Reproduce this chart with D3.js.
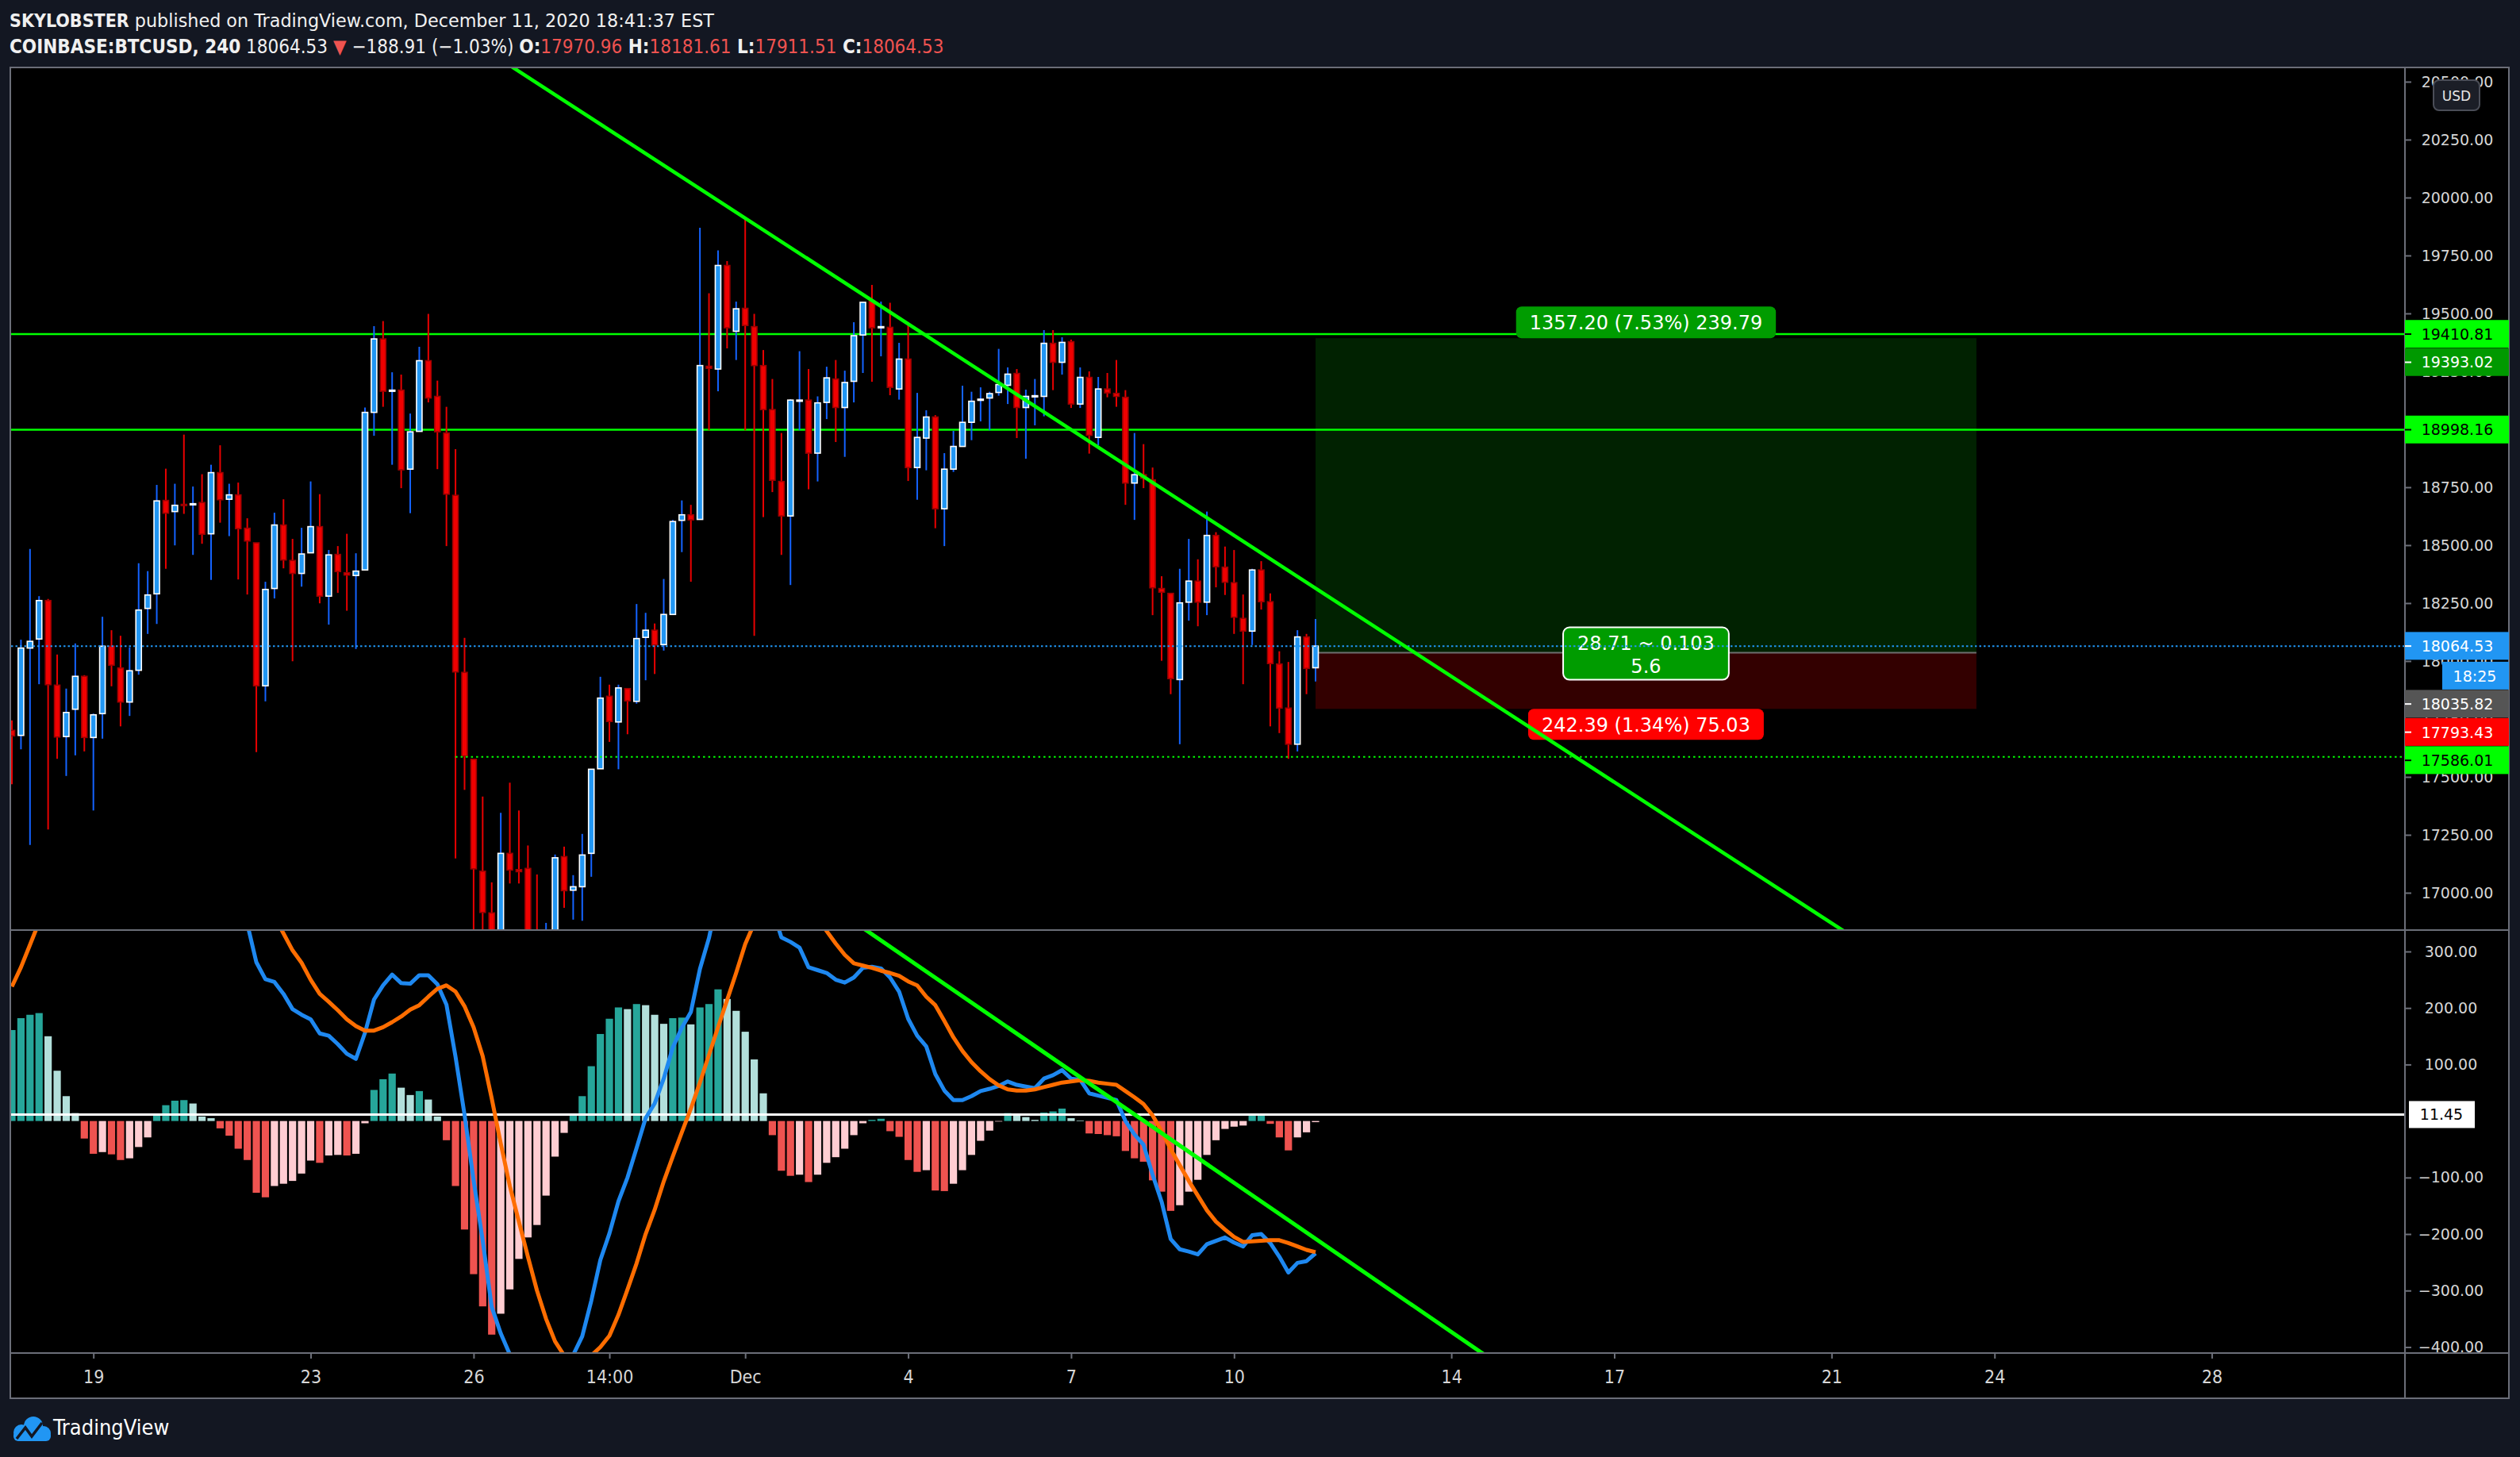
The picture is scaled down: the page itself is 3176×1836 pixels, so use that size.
<!DOCTYPE html>
<html>
<head>
<meta charset="utf-8">
<title>COINBASE:BTCUSD, 240</title>
<script src="https://cdn.jsdelivr.net/npm/d3@7"></script>
<style>
    html, body { margin: 0; padding: 0; background: #131722; }
    svg { display: block; }
</style>
</head>
<body>
<svg id="chart" width="3176" height="1836"></svg>
<script>
'use strict';

// 4h candles, first bar on the chart
const firstBar = '2020-11-17 14:00';

const opens = [17701,17679,18056,18095,18261,17896,17674,17792,17934,17670,
    17773,18064,17970,17823,17960,18227,18290,18693,18645,18676,
    18676,18684,18549,18813,18698,18717,18573,18510,17893,18313,
    18587,18434,18378,18467,18580,18280,18460,18381,18369,18393,
    19073,19390,19164,19169,18828,18991,19296,19142,18984,18715,
    17951,17576,17093,16913,16600,17170,17100,17105,16750,16600,
    16800,17156,17011,17026,17170,17535,17848,17737,17881,17826,
    18102,18133,18071,18201,18607,18631,18611,19272,19260,19707,
    19423,19522,19443,19275,19085,18775,18626,19121,19126,18897,
    19116,19217,19094,19207,19407,19553,19440,19440,19174,19303,
    18835,18962,19053,18657,18828,18926,19030,19126,19135,19159,
    19190,19241,19094,19140,19142,19371,19289,19378,19109,19224,
    18965,19174,19155,19138,18768,18804,18782,18313,18292,17920,
    18254,18345,18254,18542,18405,18338,18184,18129,18393,18256,
    17987,17797,17641,18104,17970.96];

const highs = [17744,18092,18484,18280,18268,18028,17881,18076,17939,17773,
    18191,18133,18109,18059,18422,18388,18760,18830,18765,18977,
    18753,18806,18847,18931,18765,18770,18616,18510,18342,18640,
    18698,18527,18575,18775,18720,18479,18496,18549,18465,19094,
    19445,19467,19246,19236,19068,19356,19498,19210,19097,18914,
    18100,17576,17415,17045,17345,17475,17355,17204,17079,16870,
    17165,17199,17076,17254,17533,17932,17898,17898,17881,18246,
    18208,18162,18354,18609,18693,18674,19870,19587,19772,19726,
    19551,19911,19498,19342,19217,18984,19130,19337,19260,19142,
    19270,19299,19253,19462,19551,19623,19551,19546,19373,19462,
    19157,19082,19061,18897,18993,19188,19162,19181,19162,19347,
    19267,19260,19171,19217,19428,19428,19397,19387,19267,19250,
    19226,19243,19299,19169,18984,18936,18835,18366,18292,18398,
    18527,18439,18645,18556,18494,18479,18287,18398,18431,18292,
    18042,17996,18133,18117,18181.61];

const lows = [17468,17619,17206,17900,17273,17578,17504,17593,17610,17355,
    17665,17891,17718,17763,17941,18117,18160,18398,18499,18635,
    18458,18506,18350,18597,18539,18352,18287,17607,17826,18270,
    18400,17999,18321,18467,18249,18157,18294,18217,18052,18393,
    18972,19097,18847,18746,18638,18991,19116,18828,18496,17148,
    17444,16600,16500,16200,16400,17040,17040,16600,16450,16450,
    16700,16935,16884,16879,17069,17535,17651,17533,17684,17816,
    17917,17944,18045,18201,18470,18342,18611,18996,19164,19349,
    19299,18996,18109,18621,18729,18458,18328,18996,18741,18775,
    19044,18945,18881,19116,19243,19205,19315,19147,19128,18777,
    18696,18823,18573,18496,18816,18926,18953,19034,18996,19145,
    19109,18962,18873,19017,19056,19169,19236,19092,19092,18895,
    18931,19138,19097,18674,18609,18746,18198,18001,17857,17641,
    18174,18150,18198,18318,18285,18117,17900,18069,18222,17718,
    17689,17578,17610,17857,17911.51];

const closes = [17677,18056,18085,18261,17898,17672,17778,17934,17670,17768,
    18064,17982,17823,17958,18220,18285,18691,18638,18672,18672,
    18679,18547,18813,18696,18717,18571,18518,17893,18309,18587,
    18436,18378,18462,18580,18280,18458,18386,18371,18388,19073,
    19390,19164,19169,18825,18989,19296,19135,18989,18720,17953,
    17590,17103,16915,16600,17170,17098,17091,16750,16600,16800,
    17151,17009,17026,17163,17533,17840,17739,17884,17828,18097,
    18133,18069,18201,18602,18631,18609,19275,19263,19707,19438,
    19520,19448,19275,19085,18780,18626,19126,19126,18897,19114,
    19222,19094,19202,19404,19548,19438,19443,19181,19303,18835,
    18965,19053,18657,18828,18926,19030,19121,19130,19154,19193,
    19238,19094,19142,19145,19371,19289,19375,19109,19224,18974,
    19174,19157,19142,18768,18804,18789,18316,18297,17924,18251,
    18345,18254,18542,18407,18340,18189,18129,18393,18256,17989,
    17797,17641,18104,17968,18064.53];

// MACD (12, 26, 9)
const macdLine = [399,454,500,543,540,509,484,464,421,392,
    391,382,367,365,381,396,435,455,466,469,
    466,444,440,420,403,374,349,281,251,246,
    225,198,188,180,155,151,136,119,110,156,
    215,240,259,244,243,258,258,242,206,114,
    11,-105,-211,-329,-376,-413,-422,-446,-484,-482,
    -453,-436,-414,-381,-318,-246,-199,-142,-100,-48,
    5,31,75,130,165,193,269,324,399,430,
    457,471,459,429,375,325,317,307,272,267,
    262,250,245,254,271,273,270,254,229,181,
    151,132,83,54,37,37,44,53,57,62,
    70,64,61,58,75,81,90,75,73,49,
    45,41,37,0,-24,-42,-95,-143,-209,-227,
    -231,-236,-218,-212,-206,-215,-222,-202,-200,-216,
    -240,-268,-251,-248,-234];

const signalLine = [238,272,312,352,390,420,440,450,452,450,
    446,441,436,431,427,425,425,427,430,433,
    435,436,435,433,429,423,418,408,386,361,
    332,302,280,250,225,211,196,180,168,160,
    160,166,175,185,197,205,220,234,240,229,
    203,166,115,40,-40,-115,-178,-240,-300,-350,
    -390,-415,-425,-425,-415,-400,-380,-343,-298,-252,
    -200,-157,-107,-63,-20,22,68,117,166,214,
    262,313,350,380,400,413,414,402,380,362,
    336,314,294,279,275,271,266,262,257,247,
    240,220,205,177,148,124,104,88,74,63,
    56,54,54,56,60,64,68,70,72,71,
    68,66,64,53,42,30,10,-18,-50,-78,
    -106,-132,-158,-178,-192,-205,-214,-213,-212,-211,
    -211,-216,-222,-228,-232];

const histogram = [161,182,188,191,150,89,44,14,-31,-58,
    -55,-59,-69,-66,-46,-29,10,28,36,37,
    31,8,5,-13,-26,-49,-69,-127,-135,-115,
    -111,-106,-93,-70,-74,-61,-60,-61,-58,-4,
    55,74,84,59,46,53,38,8,-34,-115,
    -192,-271,-328,-378,-341,-298,-244,-206,-184,-132,
    -63,-21,11,44,97,154,181,201,198,207,
    205,188,172,182,183,171,201,207,233,216,
    195,158,109,49,-25,-88,-97,-95,-108,-95,
    -74,-64,-49,-25,-4,2,4,-18,-28,-69,
    -90,-87,-123,-124,-111,-87,-60,-35,-17,-1,
    14,10,7,2,15,17,22,5,1,-22,
    -23,-25,-27,-53,-66,-72,-105,-125,-159,-149,
    -125,-104,-60,-34,-14,-10,-8,11,12,-5,
    -29,-52,-29,-20,-2];

const priceTicks = [17000, 17250, 17500, 17750, 18000, 18250, 18500, 18750, 19000, 19250, 19500, 19750, 20000, 20250, 20500];
const macdTicks = [300, 200, 100, -100, -200, -300, -400];     // 0.00 sits under the 11.45 marker
const timeTicks = ['2020-11-19 02:00', '2020-11-23 02:00', '2020-11-26 02:00', '2020-11-28 14:00', '2020-12-01 02:00',
    '2020-12-04 02:00', '2020-12-07 02:00', '2020-12-10 02:00', '2020-12-14 02:00', '2020-12-17 02:00',
    '2020-12-21 02:00', '2020-12-24 02:00', '2020-12-28 02:00'];
const timeLabels = ['19', '23', '26', '14:00', 'Dec', '4', '7', '10', '14', '17', '21', '24', '28'];

// drawings
const levels = [19410.81, 18998.16];
const supportRay = {price: 17586.01, fromBar: 49};
const priceTrend = [[81, 19911], [146.8, 18243]];          // [bar, price]
const macdTrend = [[102.1, 252.5], [154.7, -326]];         // [bar, macd]
const macdLevel = 11.45;
const position = {entry: 18035.82, target: 19393.02, stop: 17793.43, fromBar: 144, toBar: 217};
const positionTexts = ['1357.20 (7.53%) 239.79', '28.71 ~ 0.103', '5.6', '242.39 (1.34%) 75.03'];
const countdown = '18:25';

const author = 'SKYLOBSTER';
const published = 'December 11, 2020 18:41:37 EST';
const symbol = 'COINBASE:BTCUSD';
const interval = '240';
const dayChange = -188.91;
const dayChangePct = -1.03;


const NARROW = "'DejaVu Sans Condensed', 'Liberation Sans Narrow', 'DejaVu Sans', sans-serif";
const WIDE = "'DejaVu Sans', Verdana, sans-serif";
const GRID = '#6b6e78';
const LIME = '#00ff00';
const RED = '#ef5350';

const frame = {left: 14, axisX: 3031, right: 3162, top: 86, split: 1172, macdBottom: 1705, bottom: 1762};

const parseTime = d3.utcParse('%Y-%m-%d %H:%M');
const t0 = parseTime(firstBar);
const BAR = 4 * 3600 * 1000;
const fmt = d3.format('.2f');

function barTime(i)
{
    return new Date(t0.getTime() + i * BAR);
}

// value of a straight drawing at bar i, from its two anchors
function along(anchors, i)
{
    const a = anchors[0];
    const b = anchors[1];
    return a[1] + (b[1] - a[1]) * (i - a[0]) / (b[0] - a[0]);
}

const x = d3.scaleUtc().domain([barTime(0), barTime(opens.length - 1)]).range([15, 1658]);
const yPrice = d3.scaleLinear().domain([16839, 20558]).range([frame.split, frame.top]);
const yMacd = d3.scaleLinear().domain([-410.6, 336.5]).range([frame.macdBottom, frame.split + 1]);

const svg = d3.select('#chart');
const candles = opens.map((o, i) => ({i: i, t: barTime(i), o: o, h: highs[i], l: lows[i], c: closes[i]}));


function clipRect(defs, id, x0, y0, x1, y1)
{
    defs.append('clipPath').attr('id', id).append('rect')
        .attr('x', x0).attr('y', y0)
        .attr('width', x1 - x0).attr('height', y1 - y0);
}

function drawFrame()
{
    svg.append('rect').attr('width', 3176).attr('height', 1836).attr('fill', '#131722');
    svg.append('rect')
        .attr('x', 13).attr('y', 85)
        .attr('width', frame.right - 13).attr('height', frame.bottom - 85)
        .attr('fill', '#000000')
        .attr('stroke', GRID)
        .attr('stroke-width', 2);

    const defs = svg.append('defs');
    clipRect(defs, 'clipPrice', frame.left, frame.top, frame.axisX, frame.split);
    clipRect(defs, 'clipMacd', frame.left, frame.split + 1, frame.axisX, frame.macdBottom);
    clipRect(defs, 'clipPriceAxis', frame.axisX, frame.top, frame.right, frame.split);
    clipRect(defs, 'clipMacdAxis', frame.axisX, frame.split + 1, frame.right, frame.macdBottom);
}

function drawSeparators()
{
    const g = svg.append('g').attr('stroke', GRID).attr('stroke-width', 2);
    g.append('line').attr('x1', frame.left).attr('x2', frame.right).attr('y1', frame.split).attr('y2', frame.split);
    g.append('line').attr('x1', frame.left).attr('x2', frame.right).attr('y1', frame.macdBottom).attr('y2', frame.macdBottom);
    g.append('line').attr('x1', frame.axisX).attr('x2', frame.axisX).attr('y1', frame.top).attr('y2', frame.bottom);
}

function drawPricePane()
{
    const g = svg.append('g').attr('clip-path', 'url(#clipPrice)');
    const px0 = x(barTime(position.fromBar));
    const px1 = x(barTime(position.toBar));

    // long position zones
    g.append('rect')
        .attr('x', px0).attr('y', yPrice(position.target))
        .attr('width', px1 - px0).attr('height', yPrice(position.entry) - yPrice(position.target))
        .attr('fill', '#012201');
    g.append('rect')
        .attr('x', px0).attr('y', yPrice(position.entry))
        .attr('width', px1 - px0).attr('height', yPrice(position.stop) - yPrice(position.entry))
        .attr('fill', '#330000');
    g.append('line')
        .attr('x1', px0).attr('x2', px1)
        .attr('y1', yPrice(position.entry)).attr('y2', yPrice(position.entry))
        .attr('stroke', '#6f6f6f').attr('stroke-width', 2);

    // horizontal levels
    g.selectAll('line.level').data(levels).enter().append('line')
        .attr('class', 'level')
        .attr('x1', frame.left).attr('x2', frame.axisX)
        .attr('y1', (d) => yPrice(d)).attr('y2', (d) => yPrice(d))
        .attr('stroke', LIME).attr('stroke-width', 2.5);

    // candles
    const up = (d) => d.c >= d.o;
    g.selectAll('line.wick').data(candles).enter().append('line')
        .attr('class', 'wick')
        .attr('x1', (d) => x(d.t)).attr('x2', (d) => x(d.t))
        .attr('y1', (d) => yPrice(d.h)).attr('y2', (d) => yPrice(d.l))
        .attr('stroke', (d) => up(d) ? '#1463ff' : '#e80000')
        .attr('stroke-width', 2);
    g.selectAll('rect.body').data(candles).enter().append('rect')
        .attr('class', 'body')
        .attr('x', (d) => x(d.t) - 3.5)
        .attr('width', 7)
        .attr('y', (d) => yPrice(Math.max(d.o, d.c)))
        .attr('height', (d) => Math.max(Math.abs(yPrice(d.o) - yPrice(d.c)), 1.5))
        .attr('fill', (d) => up(d) ? '#2196f3' : '#f00000')
        .attr('stroke', (d) => up(d) ? '#ffffff' : '#9e0000')
        .attr('stroke-width', 1.6);

    // position labels
    const cx = (px0 + px1) / 2;
    const lab = g.append('g').attr('font-family', WIDE).attr('font-size', 24).attr('fill', '#ffffff').attr('text-anchor', 'middle');

    const tTop = lab.append('text').attr('x', cx).attr('y', yPrice(position.target) - 11).text(positionTexts[0]);
    const wTop = tTop.node().getComputedTextLength() + 34;
    lab.insert('rect', 'text')
        .attr('x', cx - wTop / 2).attr('y', yPrice(position.target) - 40)
        .attr('width', wTop).attr('height', 40).attr('rx', 7)
        .attr('fill', '#009c00');

    const tMid = lab.append('text').attr('x', cx).attr('y', yPrice(position.entry) - 4).text(positionTexts[1]);
    lab.append('text').attr('x', cx).attr('y', yPrice(position.entry) + 25).text(positionTexts[2]);
    const wMid = tMid.node().getComputedTextLength() + 36;
    lab.insert('rect', 'text')
        .attr('x', cx - wMid / 2).attr('y', yPrice(position.entry) - 32)
        .attr('width', wMid).attr('height', 66).attr('rx', 8)
        .attr('fill', '#009c00').attr('stroke', '#ffffff').attr('stroke-width', 2);

    const tBot = lab.append('text').attr('x', cx).attr('y', yPrice(position.stop) + 29).text(positionTexts[3]);
    const wBot = tBot.node().getComputedTextLength() + 34;
    lab.insert('rect', 'text')
        .attr('x', cx - wBot / 2).attr('y', yPrice(position.stop))
        .attr('width', wBot).attr('height', 39).attr('rx', 7)
        .attr('fill', '#ff0000');

    // last price and support ray
    g.append('line')
        .attr('x1', frame.left).attr('x2', frame.axisX)
        .attr('y1', yPrice(closes[closes.length - 1])).attr('y2', yPrice(closes[closes.length - 1]))
        .attr('stroke', '#2196f3').attr('stroke-width', 2).attr('stroke-dasharray', '2.5,3');
    g.append('line')
        .attr('x1', x(barTime(supportRay.fromBar))).attr('x2', frame.axisX)
        .attr('y1', yPrice(supportRay.price)).attr('y2', yPrice(supportRay.price))
        .attr('stroke', LIME).attr('stroke-width', 2).attr('stroke-dasharray', '2.5,4');

    // descending trend line
    g.append('line')
        .attr('x1', x(barTime(40))).attr('y1', yPrice(along(priceTrend, 40)))
        .attr('x2', x(barTime(230))).attr('y2', yPrice(along(priceTrend, 230)))
        .attr('stroke', LIME).attr('stroke-width', 4.5);
}

function histColor(v, prev)
{
    if (v >= 0)
        return (prev === undefined || v >= prev) ? '#26a69a' : '#b2dfdb';
    return (v <= prev) ? '#ef5350' : '#ffcdd2';
}

function drawMacdPane()
{
    const g = svg.append('g').attr('clip-path', 'url(#clipMacd)');
    const y0 = yMacd(0);

    g.selectAll('rect.hist').data(histogram).enter().append('rect')
        .attr('class', 'hist')
        .attr('x', (d, i) => x(barTime(i)) - 4.6)
        .attr('width', 9.2)
        .attr('y', (d) => Math.min(y0, yMacd(d)))
        .attr('height', (d) => Math.abs(yMacd(d) - y0))
        .attr('fill', (d, i) => histColor(d, histogram[i - 1]));

    g.append('line')
        .attr('x1', frame.left).attr('x2', frame.axisX)
        .attr('y1', yMacd(macdLevel)).attr('y2', yMacd(macdLevel))
        .attr('stroke', '#ffffff').attr('stroke-width', 3);

    const line = d3.line().x((d, i) => x(barTime(i))).y((d) => yMacd(d));
    g.append('path').datum(macdLine)
        .attr('d', line)
        .attr('fill', 'none').attr('stroke', '#1e88f0').attr('stroke-width', 5).attr('stroke-linejoin', 'round');
    g.append('path').datum(signalLine)
        .attr('d', line)
        .attr('fill', 'none').attr('stroke', '#ff6d00').attr('stroke-width', 5).attr('stroke-linejoin', 'round');

    g.append('line')
        .attr('x1', x(barTime(80))).attr('y1', yMacd(along(macdTrend, 80)))
        .attr('x2', x(barTime(180))).attr('y2', yMacd(along(macdTrend, 180)))
        .attr('stroke', LIME).attr('stroke-width', 5);
}

function scaleAxis(scale, ticks, clipId, labelX)
{
    // the clip sits on an untransformed wrapper so its rect stays in page units
    const wrap = svg.append('g').attr('clip-path', 'url(#' + clipId + ')');
    const a = wrap.append('g')
        .attr('transform', 'translate(' + frame.axisX + ',0)')
        .call(d3.axisRight(scale).tickValues(ticks).tickSize(8).tickFormat(fmt));
    a.attr('font-family', WIDE).attr('font-size', 19);
    a.select('.domain').remove();
    a.selectAll('line').attr('stroke', GRID).attr('stroke-width', 2);
    a.selectAll('text').attr('x', labelX).attr('text-anchor', 'middle').attr('fill', '#d6d6d6');
}

function drawAxes()
{
    scaleAxis(yPrice, priceTicks, 'clipPriceAxis', 66);
    scaleAxis(yMacd, macdTicks, 'clipMacdAxis', 58);

    // level marker on the macd scale
    const ym = yMacd(macdLevel);
    svg.append('rect').attr('x', frame.axisX + 5).attr('y', ym - 17).attr('width', 83).attr('height', 34).attr('fill', '#ffffff');
    svg.append('text')
        .attr('x', frame.axisX + 46).attr('y', ym + 7)
        .attr('text-anchor', 'middle').attr('font-family', WIDE).attr('font-size', 19)
        .attr('fill', '#000000')
        .text(fmt(macdLevel));

    // time scale
    const ta = svg.append('g')
        .attr('transform', 'translate(0,' + frame.macdBottom + ')')
        .call(d3.axisBottom(x).tickValues(timeTicks.map(parseTime)).tickSize(7).tickFormat((d, i) => timeLabels[i]));
    ta.attr('font-family', NARROW).attr('font-size', 23);
    ta.select('.domain').remove();
    ta.selectAll('line').attr('stroke', GRID).attr('stroke-width', 2);
    ta.selectAll('text').attr('y', 22).attr('fill', '#d6d6d6');
}

function drawPriceMarks()
{
    const last = closes[closes.length - 1];
    const marks = [
        {v: levels[0], text: fmt(levels[0]), fill: LIME, color: '#000000'},
        {v: position.target, text: fmt(position.target), fill: '#009900', color: '#ffffff'},
        {v: levels[1], text: fmt(levels[1]), fill: LIME, color: '#000000'},
        {v: last, text: fmt(last), fill: '#2196f3', color: '#ffffff'},
        {v: last, text: countdown, fill: '#2196f3', color: '#ffffff', small: true},
        {v: position.entry, text: fmt(position.entry), fill: '#555555', color: '#ffffff'},
        {v: position.stop, text: fmt(position.stop), fill: '#ff0000', color: '#ffffff'},
        {v: supportRay.price, text: fmt(supportRay.price), fill: LIME, color: '#000000'}
    ];

    // stack the boxes so they never overlap
    const h = 35.5;
    let prev = -1e9;
    for (let i in marks)
    {
        let want = yPrice(marks[i].v);
        if (marks[i].small)
            want = prev + h + 2;
        marks[i].y = Math.max(want, prev + h);
        prev = marks[i].y;
    }

    const g = svg.append('g').attr('font-family', WIDE).attr('font-size', 19).attr('text-anchor', 'middle');
    g.selectAll('rect').data(marks).enter().append('rect')
        .attr('x', (d) => d.small ? frame.axisX + 47 : frame.axisX)
        .attr('y', (d) => d.y - h / 2)
        .attr('width', (d) => d.small ? frame.right - frame.axisX - 47 : frame.right - frame.axisX)
        .attr('height', h - 0.5)
        .attr('fill', (d) => d.fill);
    g.selectAll('line').data(marks.filter((d) => !d.small)).enter().append('line')
        .attr('x1', frame.axisX).attr('x2', frame.axisX + 8)
        .attr('y1', (d) => d.y).attr('y2', (d) => d.y)
        .attr('stroke', (d) => d.color).attr('stroke-width', 2);
    g.selectAll('text').data(marks).enter().append('text')
        .attr('x', (d) => d.small ? frame.axisX + 88 : frame.axisX + 66)
        .attr('y', (d) => d.y + 7)
        .attr('fill', (d) => d.color)
        .text((d) => d.text);

    // currency badge
    svg.append('rect')
        .attr('x', 3067).attr('y', 101).attr('width', 58).attr('height', 38).attr('rx', 7)
        .attr('fill', '#1b1e27').attr('stroke', '#4a4d57').attr('stroke-width', 2);
    svg.append('text')
        .attr('x', 3096).attr('y', 127)
        .attr('text-anchor', 'middle').attr('font-family', WIDE).attr('font-size', 17)
        .attr('fill', '#e6e6e6')
        .text('USD');
}

function drawHeader()
{
    const c = candles[candles.length - 1];

    const t1 = svg.append('text').attr('x', 12).attr('y', 34).attr('fill', '#f0f0f0');
    t1.append('tspan').attr('font-family', NARROW).attr('font-size', 23).attr('font-weight', 'bold').text(author);
    t1.append('tspan').attr('font-family', WIDE).attr('font-size', 22.3).text(' published on TradingView.com, ' + published);

    const t2 = svg.append('text').attr('x', 12).attr('y', 67)
        .attr('font-family', NARROW).attr('font-size', 24).attr('fill', '#f0f0f0');
    t2.append('tspan').attr('font-weight', 'bold').text(symbol + ', ' + interval);
    t2.append('tspan').text('  ' + fmt(c.c) + ' ');
    t2.append('tspan').attr('fill', RED).text('\u25BC');
    t2.append('tspan').text(' ' + fmt(dayChange) + ' (' + fmt(dayChangePct) + '%) ');
    const parts = [['O:', c.o], ['H:', c.h], ['L:', c.l], ['C:', c.c]];
    for (let i in parts)
    {
        t2.append('tspan').attr('font-weight', 'bold').text((i > 0 ? ' ' : '') + parts[i][0]);
        t2.append('tspan').attr('fill', RED).text(fmt(parts[i][1]));
    }
}

function drawFooter()
{
    const g = svg.append('g').attr('fill', '#2196f3');
    g.append('circle').attr('cx', 27).attr('cy', 1805).attr('r', 10);
    g.append('circle').attr('cx', 42).attr('cy', 1797).attr('r', 12);
    g.append('circle').attr('cx', 55).attr('cy', 1806).attr('r', 9);
    g.append('rect').attr('x', 17).attr('y', 1803).attr('width', 47).attr('height', 13).attr('rx', 6);
    g.append('polyline')
        .attr('points', '21,1813 32,1799 40,1810 53,1793')
        .attr('fill', 'none').attr('stroke', '#131722').attr('stroke-width', 3.5);

    svg.append('text')
        .attr('x', 67).attr('y', 1808)
        .attr('font-family', NARROW).attr('font-size', 27).attr('fill', '#ffffff')
        .text('TradingView');
}


drawFrame();
drawPricePane();
drawMacdPane();
drawSeparators();
drawAxes();
drawPriceMarks();
drawHeader();
drawFooter();
</script>
</body>
</html>
